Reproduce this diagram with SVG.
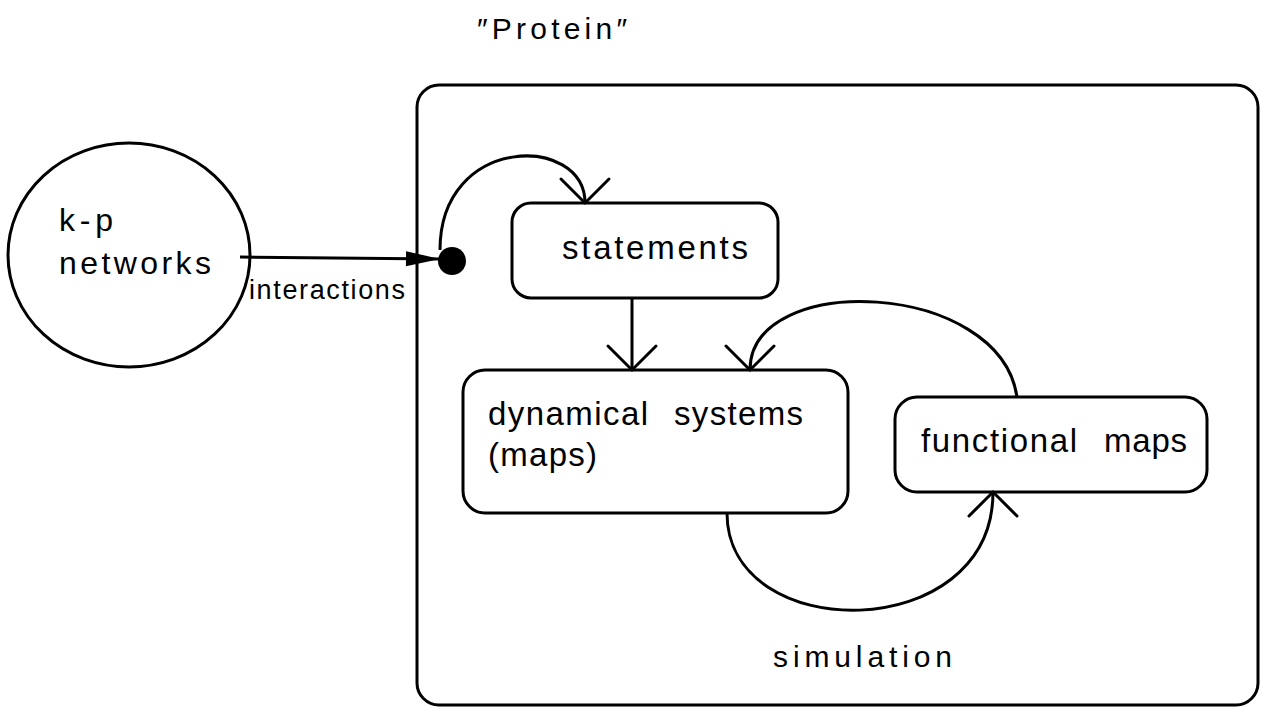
<svg xmlns="http://www.w3.org/2000/svg" width="1261" height="708" viewBox="0 0 1261 708">
  <style>
    .shape { fill: #fff; stroke: #000; stroke-width: 3; }
    .conn { fill: none; stroke: #000; stroke-width: 3; }
    .lbl { font-family: "Liberation Sans", Arial, Helvetica, sans-serif; fill: #000; }
  </style>
  <defs>
    <marker id="open-v" markerUnits="userSpaceOnUse" markerWidth="60" markerHeight="60" viewBox="-30 -30 60 60" refX="0" refY="0" orient="auto">
      <path d="M -24 -24 L 0 0 L -24 24" fill="none" stroke="#000" stroke-width="3" stroke-linecap="round" stroke-linejoin="miter"/>
    </marker>
    <marker id="filled" markerUnits="userSpaceOnUse" markerWidth="40" markerHeight="20" viewBox="-36 -10 40 20" refX="0" refY="0" orient="auto">
      <path d="M -34 -7.5 L 0 0 L -34 7.5 Z" fill="#000"/>
    </marker>
  </defs>
  <rect width="1261" height="708" fill="#fff"/>

  <text class="lbl" x="477" y="39" font-size="30" textLength="150" lengthAdjust="spacing">″Protein″</text>

  <g id="protein">
    <rect class="shape" x="417" y="85" width="841" height="620" rx="22" ry="22"/>
  </g>

  <g id="kp-networks">
    <ellipse class="shape" cx="129" cy="255" rx="121" ry="112"/>
    <text class="lbl" x="59" y="231" font-size="32" textLength="54" lengthAdjust="spacing">k-p</text>
    <text class="lbl" x="59" y="274" font-size="32" textLength="152" lengthAdjust="spacing">networks</text>
  </g>

  <g id="initial">
    <circle cx="452" cy="261" r="14" fill="#000"/>
  </g>

  <g id="statements">
    <rect class="shape" x="512" y="203" width="266" height="95" rx="19" ry="19"/>
    <text class="lbl" x="562" y="259" font-size="33" textLength="186" lengthAdjust="spacing">statements</text>
  </g>

  <g id="dynamical-systems">
    <rect class="shape" x="463" y="370" width="385" height="143" rx="22" ry="22"/>
    <text class="lbl" x="488" y="425" font-size="33" textLength="160" lengthAdjust="spacing">dynamical</text>
    <text class="lbl" x="674" y="425" font-size="33" textLength="129" lengthAdjust="spacing">systems</text>
    <text class="lbl" x="488" y="466" font-size="33" textLength="109" lengthAdjust="spacing">(maps)</text>
  </g>

  <g id="functional-maps">
    <rect class="shape" x="895" y="397" width="312" height="95" rx="22" ry="22"/>
    <text class="lbl" x="921" y="452" font-size="33" textLength="156" lengthAdjust="spacing">functional</text>
    <text class="lbl" x="1104" y="452" font-size="33" textLength="83" lengthAdjust="spacing">maps</text>
  </g>

  <g id="connectors">
    <path class="conn" d="M 240 257 L 440 259" marker-end="url(#filled)"/>
    <text class="lbl" x="249" y="299" font-size="27" textLength="156" lengthAdjust="spacing">interactions</text>
    <path class="conn" d="M 440 250 C 440 134, 585 134, 585 203" marker-end="url(#open-v)"/>
    <path class="conn" d="M 632 298 L 632 370" marker-end="url(#open-v)"/>
    <path class="conn" d="M 1017 397 C 1000 280, 750 270, 750 370" marker-end="url(#open-v)"/>
    <path class="conn" d="M 727 513 C 727 646, 993 646, 993 492" marker-end="url(#open-v)"/>
    <text class="lbl" x="773" y="667" font-size="30" textLength="179" lengthAdjust="spacing">simulation</text>
  </g>
</svg>
